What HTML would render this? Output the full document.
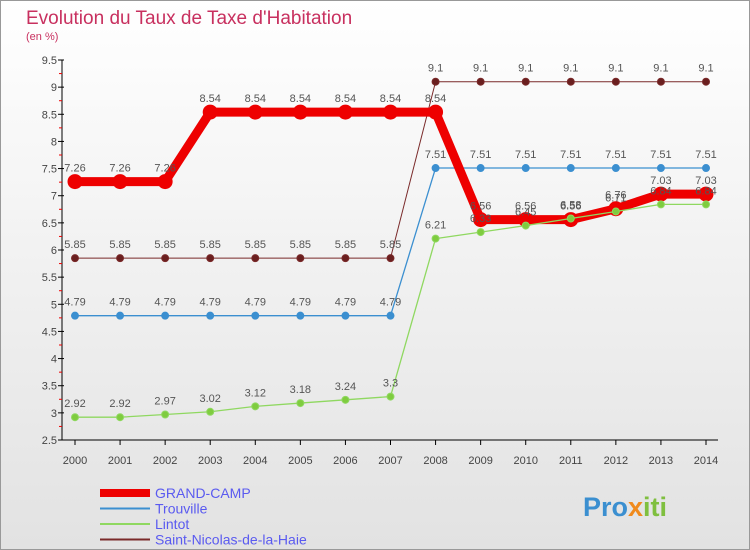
<!DOCTYPE html>
<html><head><meta charset="utf-8"><style>
body{margin:0}
#wrap{width:750px;height:550px;position:relative;overflow:hidden;font-family:"Liberation Sans",sans-serif}
</style></head><body>
<div id="wrap">
<svg id="svg" width="750" height="550" xmlns="http://www.w3.org/2000/svg">
<defs><linearGradient id="bg" x1="0" y1="0" x2="0" y2="1"><stop offset="0" stop-color="#ffffff"/><stop offset="1" stop-color="#e2e2e2"/></linearGradient></defs>
<rect x="0.5" y="0.5" width="749" height="549" fill="url(#bg)" stroke="#999"/>
<text x="26" y="24" font-size="19" fill="#c8305f">Evolution du Taux de Taxe d'Habitation</text>
<text x="26" y="40" font-size="11" fill="#c8305f">(en %)</text>
<g id="axes"></g><g id="series"></g><g id="legend"></g>
<text x="583" y="516" font-size="27" font-weight="bold" fill="#3b8fd0">Pro<tspan fill="#f08a1c">x</tspan><tspan fill="#7fbf3f">iti</tspan></text>
</svg>
</div>
<script>
const years=[2000,2001,2002,2003,2004,2005,2006,2007,2008,2009,2010,2011,2012,2013,2014];
const grandCamp=[7.26,7.26,7.26,8.54,8.54,8.54,8.54,8.54,8.54,6.56,6.56,6.56,6.76,7.03,7.03];
const trouville=[4.79,4.79,4.79,4.79,4.79,4.79,4.79,4.79,7.51,7.51,7.51,7.51,7.51,7.51,7.51];
const lintot=[2.92,2.92,2.97,3.02,3.12,3.18,3.24,3.3,6.21,6.33,6.45,6.58,6.71,6.84,6.84];
const saintNicolas=[5.85,5.85,5.85,5.85,5.85,5.85,5.85,5.85,9.1,9.1,9.1,9.1,9.1,9.1,9.1];
const yTicks=[2.5,3,3.5,4,4.5,5,5.5,6,6.5,7,7.5,8,8.5,9,9.5];
const seriesNames=["GRAND-CAMP","Trouville","Lintot","Saint-Nicolas-de-la-Haie"];
const NS="http://www.w3.org/2000/svg";
const X=i=>75+i*(631/14);
const Y=v=>440-(v-2.5)*(380/7);
function mk(t,a,p){const e=document.createElementNS(NS,t);for(const k in a)e.setAttribute(k,a[k]);p.appendChild(e);return e;}
const axes=document.getElementById('axes');
let l=mk('line',{x1:62,y1:60,x2:62,y2:440,stroke:'#000'},axes);


l=mk('line',{x1:62,y1:440,x2:718,y2:440,stroke:'#000'},axes);


yTicks.forEach(v=>{const y=Y(v);mk('line',{x1:58,y1:y,x2:64,y2:y,stroke:'#000'},axes);
 const t=mk('text',{x:57,y:y+4,'font-size':11,'text-anchor':'end',fill:'#444'},axes);t.textContent=v;
 
 
 if(v<9.5)mk('line',{x1:59,y1:Y(v+0.25),x2:62,y2:Y(v+0.25),stroke:'#e00'},axes);});
years.forEach((yr,i)=>{const x=X(i);mk('line',{x1:x,y1:440,x2:x,y2:445,stroke:'#000'},axes);
 const t=mk('text',{x:x,y:464,'font-size':11,'text-anchor':'middle',fill:'#444'},axes);t.textContent=yr;
 
 });
const sg=document.getElementById('series');
function draw(data,color,w,r,dot,name){const g=mk('g',{},sg);
 
 
 mk('polyline',{points:data.map((v,i)=>X(i)+','+Y(v)).join(' '),fill:'none',stroke:color,'stroke-width':w,'stroke-linejoin':'round'},g);
 data.forEach((v,i)=>{mk('circle',{cx:X(i),cy:Y(v),r:r,fill:dot,stroke:color,'stroke-width':1},g);
  const t=mk('text',{x:X(i),y:Y(v)-10,'font-size':11,'text-anchor':'middle',fill:'#555'},g);t.textContent=v;});}
draw(saintNicolas,'#7a2a2a',1,3.5,'#6a1f1f','series-saint-nicolas');
draw(trouville,'#3b8fd0',1.3,3.5,'#3b8fd0','series-trouville');
draw(grandCamp,'#ee0000',9,7,'#ee0000','series-grand-camp');
draw(lintot,'#8fd860',1.3,3.5,'#7fcc3f','series-lintot');
const lg=document.getElementById('legend');
const lc=['#ee0000','#3b8fd0','#8fd860','#7a2a2a'],lw=[8,2,2,2];
seriesNames.forEach((n,i)=>{const y=493+i*15.5;const g=mk('g',{},lg);
 
 
 mk('line',{x1:100,y1:y,x2:150,y2:y,stroke:lc[i],'stroke-width':lw[i]},g);
 const t=mk('text',{x:155,y:y+5,'font-size':14,fill:'#5a5af0'},g);t.textContent=n;});
</script>
</body></html>
